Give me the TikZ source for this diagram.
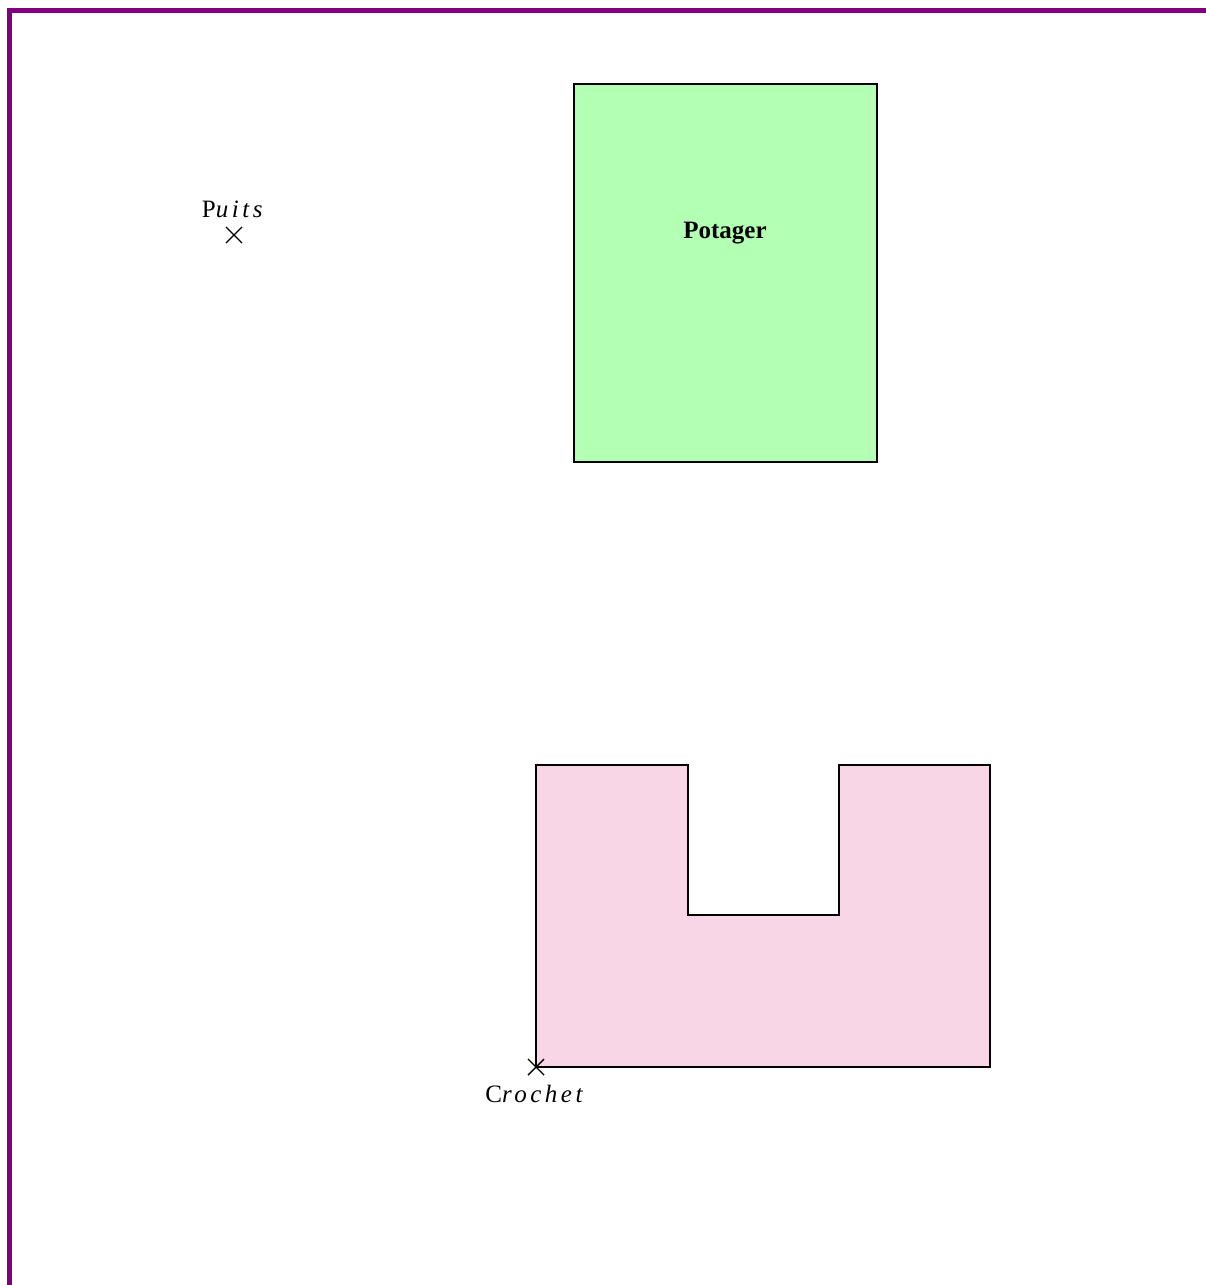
\documentclass[tikz,border=0pt]{standalone}
\usepackage{fontspec}
\setmainfont{Liberation Serif}
\usetikzlibrary{calc}
\definecolor{borderpurple}{RGB}{128,0,128}
\definecolor{potagergreen}{RGB}{179,255,179}
\definecolor{maisonpink}{RGB}{248,214,229}
\newcommand{\spaced}[1]{{\addfontfeatures{LetterSpace=14}#1}}
\begin{document}
\begin{tikzpicture}[x=0.5pt,y=-0.5pt,
  wall/.style={draw=black,line width=1pt},
  cross/.style={draw=black,line width=0.7pt},
  lbl/.style={inner sep=0pt,font=\fontsize{12.5}{15}\selectfont}]
\useasboundingbox (0,0) rectangle (1205,1285);
% border
\draw[borderpurple,line width=2.6pt] (9.5,1290) -- (9.5,10.5) -- (1210,10.5);
% potager
\draw[wall,fill=potagergreen] (574,84) rectangle (877,462);
\node[inner sep=0pt,font=\fontsize{12.5}{15}\selectfont\bfseries,anchor=base] (potager) at (725,238) {Potager};
% maison (U shape)
\draw[wall,fill=maisonpink] (536,765) -- (688,765) -- (688,915) -- (839,915) -- (839,765) -- (990,765) -- (990,1067) -- (536,1067) -- cycle;
% puits
\coordinate (puits) at (234,235);
\draw[cross] ($(puits)+(-8,-8)$) -- ($(puits)+(8,8)$) ($(puits)+(-8,8)$) -- ($(puits)+(8,-8)$);
\node[lbl,anchor=base] (puitslbl) at (234,217) {\spaced{P\textit{uits}}};
% crochet
\coordinate (crochet) at (536,1067);
\draw[cross] ($(crochet)+(-8,-8)$) -- ($(crochet)+(8,8)$) ($(crochet)+(-8,8)$) -- ($(crochet)+(8,-8)$);
\node[lbl,anchor=base] (crochetlbl) at (536,1102) {\spaced{C\textit{rochet}}};
\end{tikzpicture}
\end{document}
